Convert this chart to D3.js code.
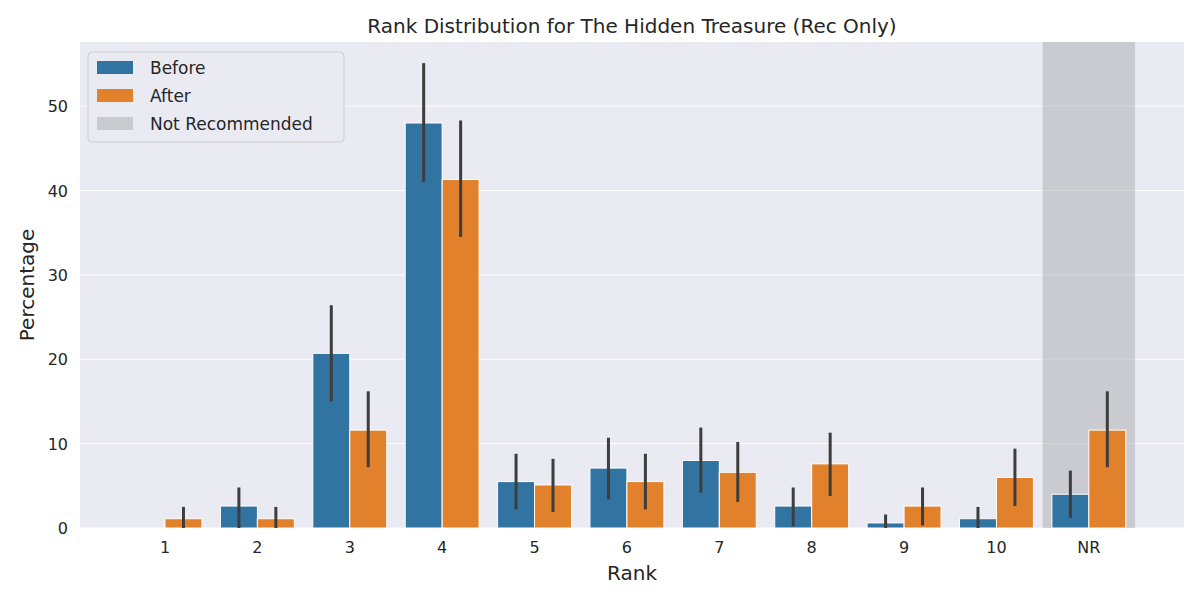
<!DOCTYPE html>
<html>
<meta charset="utf-8" />
<style>
  body { margin: 0; background: #fff; }
  text { font-family: "DejaVu Sans", sans-serif; fill: #262626; }
</style>
<svg width="1200" height="600"></svg>
<script src="https://d3js.org/d3.v7.min.js"></script>
<script>
const ranks = ["1", "2", "3", "4", "5", "6", "7", "8", "9", "10", "NR"];
const before = [0, 2.6, 20.7, 48.0, 5.5, 7.1, 8.0, 2.6, 0.6, 1.1, 4.0];
const beforeLo = [0, 0, 15.0, 41.0, 2.2, 3.4, 4.2, 0.2, 0, 0, 1.2];
const beforeHi = [0, 4.8, 26.4, 55.1, 8.8, 10.7, 11.9, 4.8, 1.6, 2.5, 6.8];
const after = [1.1, 1.1, 11.6, 41.3, 5.1, 5.5, 6.6, 7.6, 2.6, 6.0, 11.6];
const afterLo = [0, 0, 7.2, 34.5, 1.9, 2.2, 3.1, 3.8, 0.3, 2.6, 7.2];
const afterHi = [2.5, 2.5, 16.2, 48.3, 8.2, 8.8, 10.2, 11.3, 4.8, 9.4, 16.2];
const yTicks = [0, 10, 20, 30, 40, 50];

const svg = d3.select("svg");
const pL = 80, pR = 1184, pT = 42, pB = 528;
const x = d3.scaleLinear().domain([-0.92, 11.03]).range([pL, pR]);
const y = d3.scaleLinear().domain([0, 57.6]).range([pB, pT]);

svg.append("rect").attr("x", pL).attr("y", pT)
  .attr("width", pR - pL).attr("height", pB - pT).attr("fill", "#eaeaf2");

// grid
svg.append("g").selectAll("line").data(yTicks).join("line")
  .attr("x1", pL).attr("x2", pR)
  .attr("y1", d => y(d)).attr("y2", d => y(d))
  .attr("stroke", "#fff").attr("stroke-width", 1);

// not recommended span
svg.append("rect").attr("x", x(9.5)).attr("width", x(10.5) - x(9.5))
  .attr("y", pT).attr("height", pB - pT)
  .attr("fill", "#a9a9b0").attr("opacity", 0.5);

const series = [
  { vals: before, lo: beforeLo, hi: beforeHi, color: "#3274a1", off: -0.4 },
  { vals: after, lo: afterLo, hi: afterHi, color: "#e1812c", off: 0 }
];

series.forEach(s => {
  svg.append("g").selectAll("rect").data(ranks).join("rect")
    .attr("x", (d, i) => x(i + s.off))
    .attr("width", x(0.4) - x(0))
    .attr("y", (d, i) => y(s.vals[i]))
    .attr("height", (d, i) => y(0) - y(s.vals[i]))
    .attr("fill", s.color).attr("stroke", "#fff").attr("stroke-width", 1);
});
series.forEach(s => {
  svg.append("g").selectAll("line").data(ranks).join("line")
    .attr("x1", (d, i) => x(i + s.off + 0.2)).attr("x2", (d, i) => x(i + s.off + 0.2))
    .attr("y1", (d, i) => y(s.lo[i])).attr("y2", (d, i) => y(s.hi[i]))
    .attr("stroke", "#3d3d3d").attr("stroke-width", 3)
    .attr("display", (d, i) => s.hi[i] > s.lo[i] ? null : "none");
});

// ticks
svg.append("g").selectAll("text").data(ranks).join("text")
  .attr("x", (d, i) => x(i)).attr("y", pB + 25)
  .attr("text-anchor", "middle").attr("font-size", 16).text(d => d);
svg.append("g").selectAll("text").data(yTicks).join("text")
  .attr("x", pL - 12).attr("y", d => y(d) + 6)
  .attr("text-anchor", "end").attr("font-size", 16).text(d => d);

svg.append("text").attr("x", (pL + pR) / 2).attr("y", pB + 52)
  .attr("text-anchor", "middle").attr("font-size", 20).text("Rank");
svg.append("text").attr("transform", `translate(34,${(pT + pB) / 2}) rotate(-90)`)
  .attr("text-anchor", "middle").attr("font-size", 20).text("Percentage");
svg.append("text").attr("x", (pL + pR) / 2).attr("y", 33)
  .attr("text-anchor", "middle").attr("font-size", 20)
  .text("Rank Distribution for The Hidden Treasure (Rec Only)");

// legend
const lg = svg.append("g").attr("transform", "translate(88,52)");
lg.append("rect").attr("width", 256).attr("height", 90).attr("rx", 4)
  .attr("fill", "#eaeaf2").attr("fill-opacity", 0.8).attr("stroke", "#cccccc");
const items = [["Before", "#3274a1", 1], ["After", "#e1812c", 1], ["Not Recommended", "#a9a9b0", 0.5]];
items.forEach((it, i) => {
  lg.append("rect").attr("x", 9).attr("y", 9 + i * 28).attr("width", 36).attr("height", 13)
    .attr("fill", it[1]).attr("opacity", it[2]);
  lg.append("text").attr("x", 62).attr("y", 22 + i * 28).attr("font-size", 17).text(it[0]);
});
</script>
</html>
